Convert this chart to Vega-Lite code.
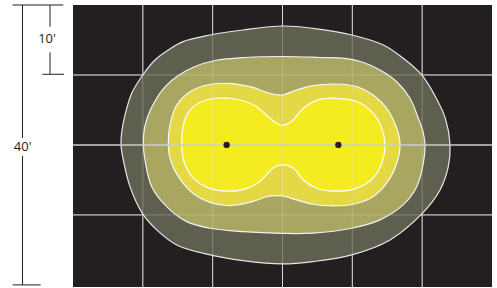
{
  "$schema": "https://vega.github.io/schema/vega-lite/v6.json",
  "width": 419,
  "height": 282,
  "autosize": {"type": "none"},
  "padding": {"left": 73, "top": 5, "right": 5, "bottom": 1},
  "background": "#ffffff",
  "config": {"view": {"fill": "#231f20", "stroke": null}},
  "datasets": {
    "contours": [
      {"c": "outer", "i": 1, "x": 6.87, "y": 20.07},
      {"c": "outer", "i": 2, "x": 7.02, "y": 22.14},
      {"c": "outer", "i": 3, "x": 7.45, "y": 24.29},
      {"c": "outer", "i": 4, "x": 8.41, "y": 27.39},
      {"c": "outer", "i": 5, "x": 10.07, "y": 30.1},
      {"c": "outer", "i": 6, "x": 11.74, "y": 32.14},
      {"c": "outer", "i": 7, "x": 13.65, "y": 33.57},
      {"c": "outer", "i": 8, "x": 15.75, "y": 34.76},
      {"c": "outer", "i": 9, "x": 19.62, "y": 35.71},
      {"c": "outer", "i": 10, "x": 24.34, "y": 36.43},
      {"c": "outer", "i": 11, "x": 30.07, "y": 37.0},
      {"c": "outer", "i": 12, "x": 34.37, "y": 36.67},
      {"c": "outer", "i": 13, "x": 39.91, "y": 35.71},
      {"c": "outer", "i": 14, "x": 44.44, "y": 34.29},
      {"c": "outer", "i": 15, "x": 47.3, "y": 32.39},
      {"c": "outer", "i": 16, "x": 49.94, "y": 30.0},
      {"c": "outer", "i": 17, "x": 51.85, "y": 27.0},
      {"c": "outer", "i": 18, "x": 53.3, "y": 23.86},
      {"c": "outer", "i": 19, "x": 53.99, "y": 20.07},
      {"c": "outer", "i": 20, "x": 53.74, "y": 16.9},
      {"c": "outer", "i": 21, "x": 52.56, "y": 13.57},
      {"c": "outer", "i": 22, "x": 49.94, "y": 10.14},
      {"c": "outer", "i": 23, "x": 45.4, "y": 6.43},
      {"c": "outer", "i": 24, "x": 39.91, "y": 4.29},
      {"c": "outer", "i": 25, "x": 34.37, "y": 3.33},
      {"c": "outer", "i": 26, "x": 29.93, "y": 3.0},
      {"c": "outer", "i": 27, "x": 24.34, "y": 3.47},
      {"c": "outer", "i": 28, "x": 19.62, "y": 4.29},
      {"c": "outer", "i": 29, "x": 14.85, "y": 5.71},
      {"c": "outer", "i": 30, "x": 11.99, "y": 7.86},
      {"c": "outer", "i": 31, "x": 9.98, "y": 10.14},
      {"c": "outer", "i": 32, "x": 8.16, "y": 14.04},
      {"c": "outer", "i": 33, "x": 7.2, "y": 17.86},
      {"c": "olive", "i": 1, "x": 10.07, "y": 20.07},
      {"c": "olive", "i": 2, "x": 10.24, "y": 22.43},
      {"c": "olive", "i": 3, "x": 10.78, "y": 24.29},
      {"c": "olive", "i": 4, "x": 11.74, "y": 26.29},
      {"c": "olive", "i": 5, "x": 13.17, "y": 28.29},
      {"c": "olive", "i": 6, "x": 15.08, "y": 29.93},
      {"c": "olive", "i": 7, "x": 17.47, "y": 31.21},
      {"c": "olive", "i": 8, "x": 20.34, "y": 32.07},
      {"c": "olive", "i": 9, "x": 24.63, "y": 32.5},
      {"c": "olive", "i": 10, "x": 29.93, "y": 32.64},
      {"c": "olive", "i": 11, "x": 35.37, "y": 32.5},
      {"c": "olive", "i": 12, "x": 38.95, "y": 32.36},
      {"c": "olive", "i": 13, "x": 41.39, "y": 31.86},
      {"c": "olive", "i": 14, "x": 43.96, "y": 30.71},
      {"c": "olive", "i": 15, "x": 46.36, "y": 29.04},
      {"c": "olive", "i": 16, "x": 48.26, "y": 26.67},
      {"c": "olive", "i": 17, "x": 49.45, "y": 23.81},
      {"c": "olive", "i": 18, "x": 50.12, "y": 21.9},
      {"c": "olive", "i": 19, "x": 50.41, "y": 20.07},
      {"c": "olive", "i": 20, "x": 50.17, "y": 17.39},
      {"c": "olive", "i": 21, "x": 49.22, "y": 14.04},
      {"c": "olive", "i": 22, "x": 47.26, "y": 11.43},
      {"c": "olive", "i": 23, "x": 43.96, "y": 9.29},
      {"c": "olive", "i": 24, "x": 39.91, "y": 8.1},
      {"c": "olive", "i": 25, "x": 34.37, "y": 7.39},
      {"c": "olive", "i": 26, "x": 29.93, "y": 7.36},
      {"c": "olive", "i": 27, "x": 24.34, "y": 7.61},
      {"c": "olive", "i": 28, "x": 19.62, "y": 8.1},
      {"c": "olive", "i": 29, "x": 16.28, "y": 9.04},
      {"c": "olive", "i": 30, "x": 13.42, "y": 11.19},
      {"c": "olive", "i": 31, "x": 11.27, "y": 14.04},
      {"c": "olive", "i": 32, "x": 10.31, "y": 17.86},
      {"c": "yellow", "i": 1, "x": 13.65, "y": 20.07},
      {"c": "yellow", "i": 2, "x": 13.89, "y": 22.86},
      {"c": "yellow", "i": 3, "x": 14.85, "y": 25.71},
      {"c": "yellow", "i": 4, "x": 16.76, "y": 27.61},
      {"c": "yellow", "i": 5, "x": 19.15, "y": 28.57},
      {"c": "yellow", "i": 6, "x": 22.01, "y": 28.81},
      {"c": "yellow", "i": 7, "x": 25.35, "y": 28.33},
      {"c": "yellow", "i": 8, "x": 28.21, "y": 27.39},
      {"c": "yellow", "i": 9, "x": 29.93, "y": 27.14},
      {"c": "yellow", "i": 10, "x": 32.03, "y": 27.86},
      {"c": "yellow", "i": 11, "x": 34.37, "y": 28.47},
      {"c": "yellow", "i": 12, "x": 37.52, "y": 28.71},
      {"c": "yellow", "i": 13, "x": 40.63, "y": 28.33},
      {"c": "yellow", "i": 14, "x": 43.0, "y": 27.14},
      {"c": "yellow", "i": 15, "x": 44.92, "y": 25.24},
      {"c": "yellow", "i": 16, "x": 46.36, "y": 22.39},
      {"c": "yellow", "i": 17, "x": 46.83, "y": 20.07},
      {"c": "yellow", "i": 18, "x": 46.36, "y": 17.39},
      {"c": "yellow", "i": 19, "x": 44.92, "y": 14.53},
      {"c": "yellow", "i": 20, "x": 42.96, "y": 12.61},
      {"c": "yellow", "i": 21, "x": 40.1, "y": 11.53},
      {"c": "yellow", "i": 22, "x": 37.23, "y": 11.29},
      {"c": "yellow", "i": 23, "x": 34.37, "y": 11.53},
      {"c": "yellow", "i": 24, "x": 32.03, "y": 12.14},
      {"c": "yellow", "i": 25, "x": 29.93, "y": 12.71},
      {"c": "yellow", "i": 26, "x": 27.93, "y": 12.64},
      {"c": "yellow", "i": 27, "x": 26.0, "y": 12.0},
      {"c": "yellow", "i": 28, "x": 24.0, "y": 11.5},
      {"c": "yellow", "i": 29, "x": 22.01, "y": 11.35},
      {"c": "yellow", "i": 30, "x": 19.6, "y": 11.8},
      {"c": "yellow", "i": 31, "x": 17.3, "y": 13.0},
      {"c": "yellow", "i": 32, "x": 15.2, "y": 15.3},
      {"c": "yellow", "i": 33, "x": 14.0, "y": 17.7},
      {"c": "inner", "i": 1, "x": 15.57, "y": 20.07},
      {"c": "inner", "i": 2, "x": 15.75, "y": 22.6},
      {"c": "inner", "i": 3, "x": 16.6, "y": 24.76},
      {"c": "inner", "i": 4, "x": 18.19, "y": 26.1},
      {"c": "inner", "i": 5, "x": 20.58, "y": 26.67},
      {"c": "inner", "i": 6, "x": 23.6, "y": 26.5},
      {"c": "inner", "i": 7, "x": 26.31, "y": 25.47},
      {"c": "inner", "i": 8, "x": 28.21, "y": 23.81},
      {"c": "inner", "i": 9, "x": 29.93, "y": 22.79},
      {"c": "inner", "i": 10, "x": 31.36, "y": 23.43},
      {"c": "inner", "i": 11, "x": 32.98, "y": 25.24},
      {"c": "inner", "i": 12, "x": 35.0, "y": 26.4},
      {"c": "inner", "i": 13, "x": 37.76, "y": 26.67},
      {"c": "inner", "i": 14, "x": 40.81, "y": 26.14},
      {"c": "inner", "i": 15, "x": 43.0, "y": 24.5},
      {"c": "inner", "i": 16, "x": 44.21, "y": 22.4},
      {"c": "inner", "i": 17, "x": 44.68, "y": 20.07},
      {"c": "inner", "i": 18, "x": 44.3, "y": 17.6},
      {"c": "inner", "i": 19, "x": 43.0, "y": 15.3},
      {"c": "inner", "i": 20, "x": 40.6, "y": 13.8},
      {"c": "inner", "i": 21, "x": 37.4, "y": 13.4},
      {"c": "inner", "i": 22, "x": 34.9, "y": 13.81},
      {"c": "inner", "i": 23, "x": 32.98, "y": 15.0},
      {"c": "inner", "i": 24, "x": 31.55, "y": 16.67},
      {"c": "inner", "i": 25, "x": 29.93, "y": 17.14},
      {"c": "inner", "i": 26, "x": 28.6, "y": 16.67},
      {"c": "inner", "i": 27, "x": 27.0, "y": 15.0},
      {"c": "inner", "i": 28, "x": 24.9, "y": 13.8},
      {"c": "inner", "i": 29, "x": 22.2, "y": 13.4},
      {"c": "inner", "i": 30, "x": 19.3, "y": 13.9},
      {"c": "inner", "i": 31, "x": 17.1, "y": 15.4},
      {"c": "inner", "i": 32, "x": 15.9, "y": 17.6}
    ],
    "gridx": [{"x": 10}, {"x": 20}, {"x": 30}, {"x": 40}, {"x": 50}],
    "gridy": [{"y": 10}, {"y": 30}],
    "center": [{"y": 20}],
    "lamps": [{"x": 22, "y": 20}, {"x": 38, "y": 20}],
    "dimv": [
      {"x": -7.23, "y": 40, "y2": 21.0},
      {"x": -7.23, "y": 18.43, "y2": 0},
      {"x": -3.29, "y": 40, "y2": 36.9},
      {"x": -3.29, "y": 33.24, "y2": 30.1}
    ],
    "dimh": [
      {"x": -8.64, "x2": -1.39, "y": 40},
      {"x": -8.64, "x2": -4.63, "y": 0},
      {"x": -4.4, "x2": -1.29, "y": 30.1}
    ],
    "dimtext": [
      {"x": -7.2, "y": 19.64, "label": "40'"},
      {"x": -3.72, "y": 35.14, "label": "10'"}
    ]
  },
  "layer": [
    {
      "data": {"name": "gridx"},
      "mark": {"type": "rule", "color": "#d4d4d4", "strokeWidth": 1},
      "encoding": {
        "x": {"field": "x", "type": "quantitative", "scale": {"domain": [0, 60], "nice": false, "zero": false}, "axis": null}
      }
    },
    {
      "data": {"name": "gridy"},
      "mark": {"type": "rule", "color": "#d4d4d4", "strokeWidth": 1},
      "encoding": {
        "y": {"field": "y", "type": "quantitative", "scale": {"domain": [-0.3, 40], "nice": false, "zero": false}, "axis": null}
      }
    },
    {
      "data": {"name": "contours"},
      "transform": [{"filter": "datum.c === 'outer'"}],
      "mark": {"type": "line", "interpolate": "catmull-rom-closed", "fill": "#5e5f4f", "stroke": "#e6e6e6", "strokeWidth": 1.2},
      "encoding": {
        "x": {"field": "x", "type": "quantitative", "axis": null},
        "y": {"field": "y", "type": "quantitative", "axis": null},
        "order": {"field": "i", "type": "quantitative"}
      }
    },
    {
      "data": {"name": "contours"},
      "transform": [{"filter": "datum.c === 'olive'"}],
      "mark": {"type": "line", "interpolate": "catmull-rom-closed", "fill": "#a9a661", "stroke": "#f0f0f0", "strokeWidth": 1.2},
      "encoding": {
        "x": {"field": "x", "type": "quantitative", "axis": null},
        "y": {"field": "y", "type": "quantitative", "axis": null},
        "order": {"field": "i", "type": "quantitative"}
      }
    },
    {
      "data": {"name": "contours"},
      "transform": [{"filter": "datum.c === 'yellow'"}],
      "mark": {"type": "line", "interpolate": "catmull-rom-closed", "fill": "#e4d944", "stroke": "#f8f8f8", "strokeWidth": 1.2},
      "encoding": {
        "x": {"field": "x", "type": "quantitative", "axis": null},
        "y": {"field": "y", "type": "quantitative", "axis": null},
        "order": {"field": "i", "type": "quantitative"}
      }
    },
    {
      "data": {"name": "contours"},
      "transform": [{"filter": "datum.c === 'inner'"}],
      "mark": {"type": "line", "interpolate": "catmull-rom-closed", "fill": "#f5eb21", "stroke": "#ffffff", "strokeWidth": 1.2},
      "encoding": {
        "x": {"field": "x", "type": "quantitative", "axis": null},
        "y": {"field": "y", "type": "quantitative", "axis": null},
        "order": {"field": "i", "type": "quantitative"}
      }
    },
    {
      "data": {"name": "gridx"},
      "mark": {"type": "rule", "color": "#e0e0e0", "strokeWidth": 1, "opacity": 0.3},
      "encoding": {
        "x": {"field": "x", "type": "quantitative", "axis": null}
      }
    },
    {
      "data": {"name": "gridy"},
      "mark": {"type": "rule", "color": "#e0e0e0", "strokeWidth": 1, "opacity": 0.3},
      "encoding": {
        "y": {"field": "y", "type": "quantitative", "axis": null}
      }
    },
    {
      "data": {"name": "center"},
      "mark": {"type": "rule", "color": "#cdcdcd", "strokeWidth": 1.5},
      "encoding": {
        "y": {"field": "y", "type": "quantitative", "axis": null}
      }
    },
    {
      "data": {"name": "lamps"},
      "mark": {"type": "circle", "color": "#231f20", "opacity": 1, "size": 40},
      "encoding": {
        "x": {"field": "x", "type": "quantitative", "axis": null},
        "y": {"field": "y", "type": "quantitative", "axis": null}
      }
    },
    {
      "data": {"name": "dimv"},
      "mark": {"type": "rule", "color": "#231f20", "strokeWidth": 1},
      "encoding": {
        "x": {"field": "x", "type": "quantitative", "axis": null},
        "y": {"field": "y", "type": "quantitative", "axis": null},
        "y2": {"field": "y2"}
      }
    },
    {
      "data": {"name": "dimh"},
      "mark": {"type": "rule", "color": "#231f20", "strokeWidth": 1},
      "encoding": {
        "x": {"field": "x", "type": "quantitative", "axis": null},
        "x2": {"field": "x2"},
        "y": {"field": "y", "type": "quantitative", "axis": null}
      }
    },
    {
      "data": {"name": "dimtext"},
      "mark": {"type": "text", "color": "#231f20", "font": "Open Sans", "fontSize": 13, "align": "center", "baseline": "middle"},
      "encoding": {
        "x": {"field": "x", "type": "quantitative", "axis": null},
        "y": {"field": "y", "type": "quantitative", "axis": null},
        "text": {"field": "label", "type": "nominal"}
      }
    }
  ]
}
